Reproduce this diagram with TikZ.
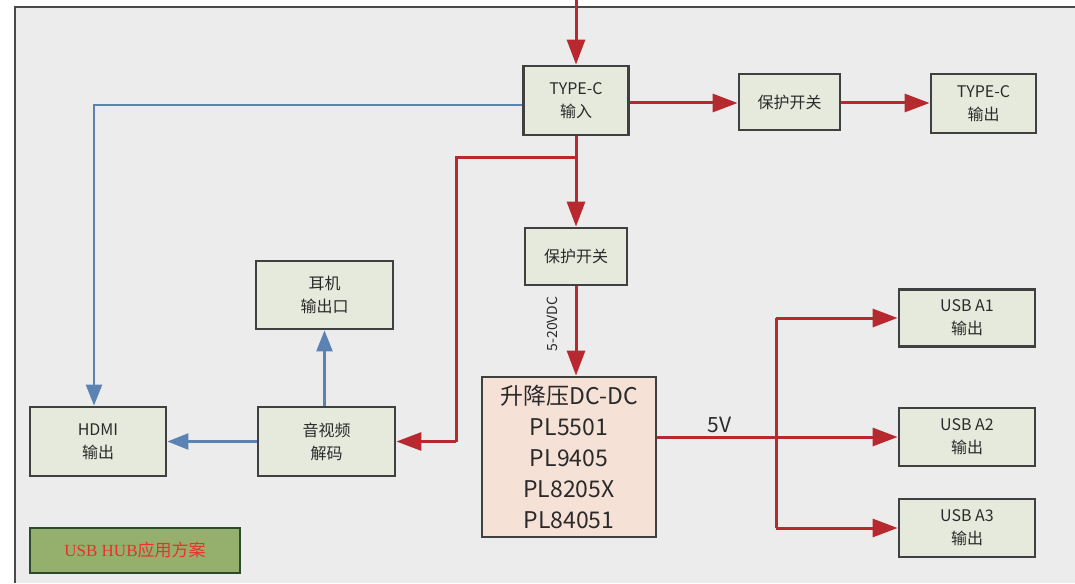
\documentclass[tikz,border=0pt]{standalone}
\usepackage{fontspec}
\setmainfont{Noto Sans CJK SC}
\newfontfamily\cjk{Noto Sans CJK SC}
\newfontfamily\serifl{Liberation Serif}
\usetikzlibrary{arrows.meta}
\definecolor{bgray}{HTML}{ECECEC}
\definecolor{frameg}{HTML}{4A4A4A}
\definecolor{boxfill}{HTML}{E6EADC}
\definecolor{boxline}{HTML}{404040}
\definecolor{dcfill}{HTML}{F6E1D6}
\definecolor{redl}{HTML}{B8282F}
\definecolor{bluel}{HTML}{5A82B2}
\definecolor{txt}{HTML}{2A2A2A}
\definecolor{gfill}{HTML}{95B06C}
\definecolor{gline}{HTML}{2C4A2C}
\definecolor{gtxt}{HTML}{E8302E}
\tikzset{
  box/.style={draw=boxline, fill=boxfill, line width=2.8pt, align=center, text=txt,
    font=\fontsize{16}{23}\selectfont, inner sep=0pt},
  redarrow/.style={draw=redl, line width=3pt, -{Triangle[length=25pt,width=18pt]}},
  redline/.style={draw=redl, line width=3pt},
  bluearrow/.style={draw=bluel, line width=2.4pt, -{Triangle[length=21pt,width=16pt]}},
}
\begin{document}
\begin{tikzpicture}[x=1pt,y=-1pt]
\useasboundingbox (0,0) rectangle (1075,583);
\fill[white] (0,0) rectangle (1075,583);
\fill[bgray] (15,7) rectangle (1075,583);
\draw[frameg, line width=2.5pt] (15,583) -- (15,7) -- (1075,7);

% nodes
\node[box, minimum width=105pt, minimum height=69pt] (tcin) at (576,100.5) {TYPE-C\\输入};
\node[box, minimum width=101pt, minimum height=56pt] (sw1) at (789.5,102) {保护开关};
\node[box, minimum width=105pt, minimum height=59pt] (tcout) at (983.5,103.5) {TYPE-C\\输出};
\node[box, minimum width=102pt, minimum height=57pt] (sw2) at (576,256.5) {保护开关};
\node[box, minimum width=137pt, minimum height=68pt] (ear) at (324.5,295) {耳机\\输出口};
\node[box, minimum width=136pt, minimum height=69pt] (hdmi) at (98,441.5) {HDMI\\输出};
\node[box, minimum width=137pt, minimum height=69pt] (av) at (326.5,441.5) {音视频\\解码};
\node[box, fill=dcfill, minimum width=174pt, minimum height=160pt,
  font=\fontsize{23}{31}\selectfont] (dc) at (569,457) {升降压DC-DC\\PL5501\\PL9405\\PL8205X\\PL84051};
\node[box, minimum width=136pt, minimum height=57pt] (usb1) at (967,318) {USB A1\\输出};
\node[box, minimum width=136pt, minimum height=58pt] (usb2) at (967,437) {USB A2\\输出};
\node[box, minimum width=136pt, minimum height=58pt] (usb3) at (967,528) {USB A3\\输出};
\node[draw=gline, fill=gfill, line width=1.8pt, minimum width=210pt, minimum height=45pt,
  inner sep=0pt, text=gtxt, font=\fontsize{17}{20}\selectfont] (lbl) at (135,550.5) {{\serifl USB HUB}应用方案};

% coordinates
\coordinate (top) at (576,0);
\coordinate (hdmicorner) at (94,105);
\coordinate (br1) at (576,157);
\coordinate (br2) at (456,157);
\coordinate (br3) at (456,441.5);
\coordinate (vtop) at (776,318);
\coordinate (vmid) at (776,437);
\coordinate (vbot) at (776,528);

% red connectors
\draw[redarrow] (top) -- (tcin.north);
\draw[redarrow] (tcin.east |- 0,103) -- (sw1.west |- 0,103);
\draw[redarrow] (sw1.east |- 0,103) -- (tcout.west |- 0,103);
\draw[redarrow] (tcin.south) -- (sw2.north);
\draw[redline] (br1) -- (br2) -- (br3);
\draw[redarrow] (br3) -- (av.east);
\draw[redarrow] (sw2.south) -- (dc.north -| sw2.south);
\node[rotate=90, font=\fontsize{14}{16}\selectfont, text=txt, inner sep=0pt] (vlbl) at (552,324) {5-20VDC};
\draw[redarrow] (dc.east |- vmid) -- (usb2.west) node[pos=0.26, above=-1pt, font=\fontsize{21}{23}\selectfont, text=txt] {5V};
\draw[redline] (vbot) -- (vtop);
\draw[redarrow] (vtop) -- (usb1.west);
\draw[redarrow] (vbot) -- (usb3.west);

% blue connectors
\draw[bluearrow] (tcin.west |- hdmicorner) -- (hdmicorner) -- (hdmi.north -| hdmicorner);
\draw[bluearrow] (av.north -| ear.south) -- (ear.south);
\draw[bluearrow] (av.west) -- (hdmi.east);
\end{tikzpicture}
\end{document}
